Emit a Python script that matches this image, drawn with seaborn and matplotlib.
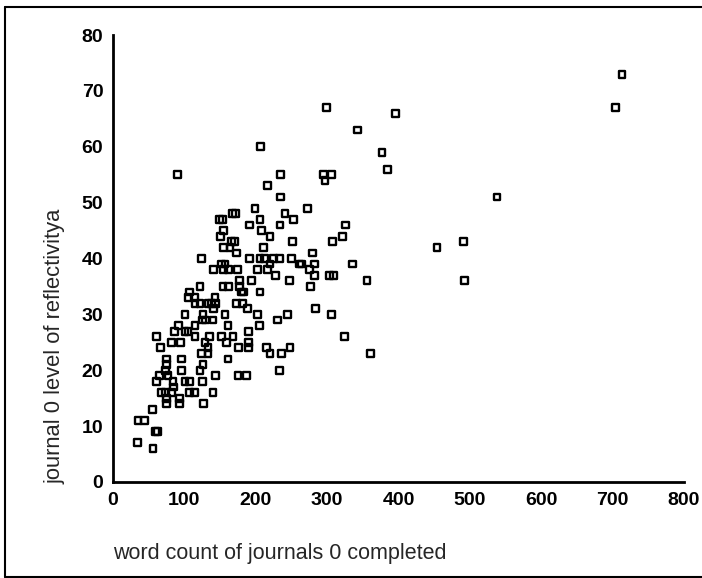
import matplotlib
matplotlib.use("Agg")
import matplotlib.pyplot as plt
import seaborn as sns
import pandas as pd
from matplotlib.lines import Line2D

sns.set_style("white")
plt.rcParams['font.family'] = ['Liberation Sans', 'DejaVu Sans']

word_count = [
    713, 704, 299, 396, 342, 207, 377, 385, 90, 235, 295, 306, 297, 216, 538, 235,
    273, 199, 167, 172, 241, 149, 153, 206, 253, 191, 234, 326, 155, 208, 151, 220,
    322, 166, 170, 251, 308, 491, 155, 164, 211, 454, 173, 279, 124, 191, 206, 212,
    225, 233, 250, 152, 157, 220, 261, 264, 282, 336, 141, 155, 162, 174, 203, 216,
    275, 228, 282, 303, 309, 247, 177, 194, 356, 493, 122, 154, 162, 177, 277, 180,
    183, 206, 107, 105, 115, 143, 115, 122, 133, 138, 144, 173, 181, 141, 189, 284,
    101, 126, 157, 203, 244, 306, 92, 115, 161, 205, 125, 130, 140, 230, 86, 101,
    105, 190, 61, 115, 135, 152, 168, 324, 82, 95, 129, 159, 190, 67, 133, 176,
    190, 215, 248, 124, 133, 220, 236, 361, 75, 96, 161, 75, 126, 73, 96, 122,
    233, 65, 77, 144, 175, 187, 61, 84, 101, 107, 125, 85, 68, 73, 82, 107,
    114, 140, 75, 93, 75, 93, 127, 55, 35, 44, 59, 62, 34, 56,
]
reflectivity = [
    73, 67, 67, 66, 63, 60, 59, 56, 55, 55, 55, 55, 54, 53, 51, 51,
    49, 49, 48, 48, 48, 47, 47, 47, 47, 46, 46, 46, 45, 45, 44, 44,
    44, 43, 43, 43, 43, 43, 42, 42, 42, 42, 41, 41, 40, 40, 40, 40,
    40, 40, 40, 39, 39, 39, 39, 39, 39, 39, 38, 38, 38, 38, 38, 38,
    38, 37, 37, 37, 37, 36, 36, 36, 36, 36, 35, 35, 35, 35, 35, 34,
    34, 34, 34, 33, 33, 33, 32, 32, 32, 32, 32, 32, 32, 31, 31, 31,
    30, 30, 30, 30, 30, 30, 28, 28, 28, 28, 29, 29, 29, 29, 27, 27,
    27, 27, 26, 26, 26, 26, 26, 26, 25, 25, 25, 25, 25, 24, 24, 24,
    24, 24, 24, 23, 23, 23, 23, 23, 22, 22, 22, 21, 21, 20, 20, 20,
    20, 19, 19, 19, 19, 19, 18, 18, 18, 18, 18, 17, 16, 16, 16, 16,
    16, 16, 15, 15, 14, 14, 14, 13, 11, 11, 9, 9, 7, 6,
]
x_ticks = [0, 100, 200, 300, 400, 500, 600, 700, 800]
y_ticks = [0, 10, 20, 30, 40, 50, 60, 70, 80]

df = pd.DataFrame({"words": word_count, "refl": reflectivity})

fig = plt.figure(figsize=(7.02, 5.78), dpi=100)
ax = fig.add_axes([113/702, 1 - 482/578, (684 - 113)/702, (482 - 35)/578])

sns.scatterplot(data=df, x="words", y="refl", ax=ax, marker="s", s=24,
                facecolor="none", edgecolor="black", linewidth=1.7, legend=False)

ax.set_xlim(0, 800)
ax.set_ylim(0, 80)
ax.set_xticks(x_ticks)
ax.set_yticks(y_ticks)
ax.set_xlabel("")
ax.set_ylabel("")
for s in ["top", "right"]:
    ax.spines[s].set_visible(False)
for s in ["left", "bottom"]:
    ax.spines[s].set_linewidth(2)
    ax.spines[s].set_color("black")
ax.tick_params(axis="both", direction="out", length=3, width=2.5, color="black",
               labelsize=14, labelcolor="black", pad=4)
for lab in ax.get_xticklabels() + ax.get_yticklabels():
    lab.set_fontweight("bold")

fig.text(113/702, 1 - 554/578, "word count of journals 0 completed",
         ha="left", va="center", fontsize=15.5)
fig.text(55/702, 1 - 346/578, "journal 0 level of reflectivitya",
         ha="center", va="center", rotation=90, fontsize=15.8)

# scanned-page frame
fig.add_artist(Line2D([5/702, 5/702], [1/578, 1 - 7/578], transform=fig.transFigure,
                      color="black", linewidth=1.5))
fig.add_artist(Line2D([5/702, 1], [1 - 7/578, 1 - 7/578], transform=fig.transFigure,
                      color="black", linewidth=1.5))
fig.add_artist(Line2D([5/702, 1], [1.5/578, 1.5/578], transform=fig.transFigure,
                      color="black", linewidth=1.5))

fig.savefig("out.png", dpi=100, facecolor="white")
